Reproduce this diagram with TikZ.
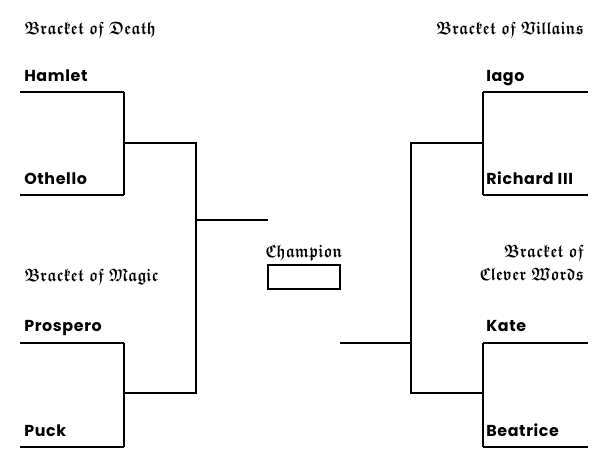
\documentclass[tikz,border=0pt]{standalone}
\usepackage{amssymb}
\usepackage{graphicx}
\usepackage{fontspec}
\newfontfamily\namefont[LetterSpace=4]{Poppins Bold}
\newcommand{\gth}[1]{\scalebox{0.85}[1]{\boldmath$\mathfrak{#1}$}}
\begin{document}
\begin{tikzpicture}[x=0.75pt,y=-0.75pt,
  pname/.style={anchor=base west,inner sep=0pt,font=\namefont\fontsize{11.9pt}{13pt}\selectfont},
  hdtext/.style={inner sep=0pt,font=\fontsize{13.5pt}{15pt}\selectfont},
  nline/.style={line width=1.3pt},
  cline/.style={line width=0.9pt}]
\useasboundingbox (0,0) rectangle (614,466);
% headings
\node[hdtext,anchor=base west] (hd) at (24,35) {\gth{Bracket\ of\ Death}};
\node[hdtext,anchor=base east] (hv) at (584,35) {\gth{Bracket\ of\ Villains}};
\node[hdtext,anchor=base west] (hm) at (24,282) {\gth{Bracket\ of\ Magic}};
\node[hdtext,anchor=base east] (hc1) at (584,258) {\gth{Bracket\ of}};
\node[hdtext,anchor=base east] (hc2) at (584,281) {\gth{Clever\ Words}};
% names
\node[pname] (hamlet) at (24,82) {Hamlet};
\node[pname] (othello) at (24,185) {Othello};
\node[pname] (prospero) at (24,332) {Prospero};
\node[pname] (puck) at (24,436) {Puck};
\node[pname] (iago) at (486,82) {Iago};
\node[pname] (richard) at (486,185) {Richard III};
\node[pname] (kate) at (486,332) {Kate};
\node[pname] (beatrice) at (486,436) {Beatrice};
% coordinates
\coordinate (l1a) at (20,92);  \coordinate (l1b) at (124,92);
\coordinate (l2a) at (20,195); \coordinate (l2b) at (124,195);
\coordinate (l3a) at (20,343); \coordinate (l3b) at (124,343);
\coordinate (l4a) at (20,447); \coordinate (l4b) at (124,447);
\coordinate (r1a) at (588,92);  \coordinate (r1b) at (483,92);
\coordinate (r2a) at (588,195); \coordinate (r2b) at (483,195);
\coordinate (r3a) at (588,343); \coordinate (r3b) at (483,343);
\coordinate (r4a) at (588,447); \coordinate (r4b) at (483,447);
\coordinate (lm1) at (196,143); \coordinate (lm2) at (196,393);
\coordinate (rm1) at (411,143); \coordinate (rm2) at (411,393);
\coordinate (lf) at (268,220); \coordinate (lfj) at (196,220);
\coordinate (rf) at (340,343); \coordinate (rfj) at (411,343);
% name lines
\draw[nline] (l1a) -- (l1b);
\draw[nline] (l2a) -- (l2b);
\draw[nline] (l3a) -- (l3b);
\draw[nline] (l4a) -- (l4b);
\draw[nline] (r1a) -- (r1b);
\draw[nline] (r2a) -- (r2b);
\draw[nline] (r3a) -- (r3b);
\draw[nline] (r4a) -- (r4b);
% connectors
\draw[cline] (l1b) -- (l2b);
\draw[cline] (l3b) -- (l4b);
\draw[cline] (r1b) -- (r2b);
\draw[cline] (r3b) -- (r4b);
\draw[cline] (124,143) -- (lm1) -- (lm2) -- (124,393);
\draw[cline] (483,143) -- (rm1) -- (rm2) -- (483,393);
\draw[cline] (lfj) -- (lf);
\draw[cline] (rfj) -- (rf);
% champion
\node[hdtext,anchor=base] (champ) at (304,258) {\gth{Champion}};
\node[draw,cline,minimum width=54pt,minimum height=18pt,inner sep=0pt] (cbox) at (304,277) {};
\end{tikzpicture}
\end{document}
